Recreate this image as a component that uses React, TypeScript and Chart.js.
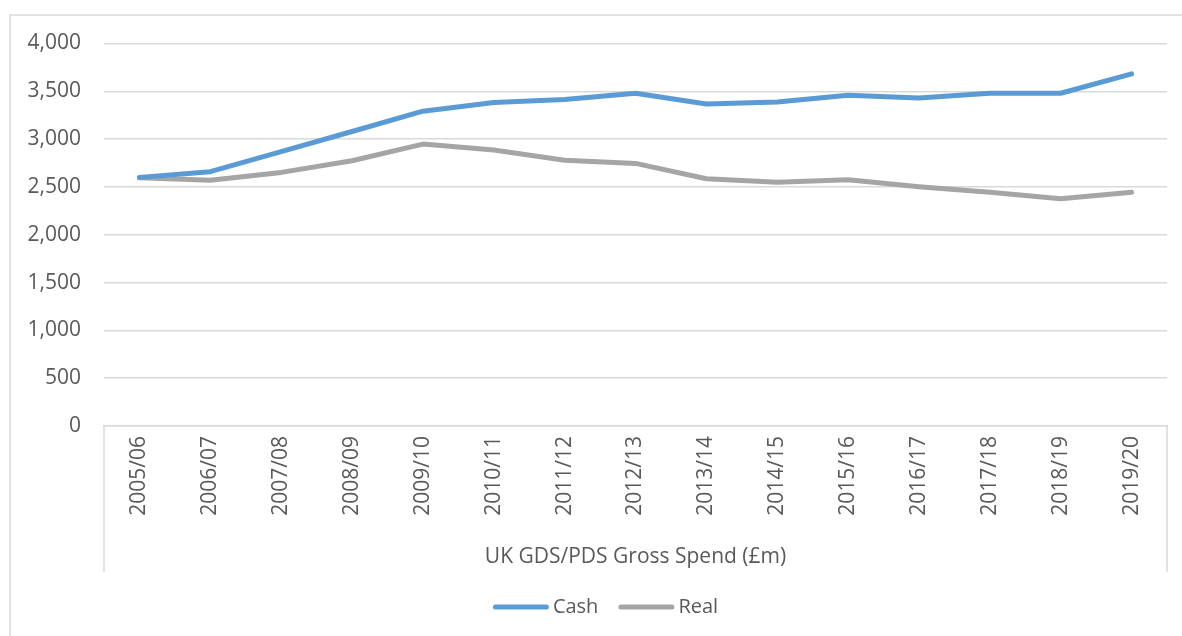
import React, { useEffect, useRef } from "react";
import { Chart, registerables } from "chart.js";

Chart.register(...registerables);

const categories = [
  "2005/06", "2006/07", "2007/08", "2008/09", "2009/10", "2010/11", "2011/12", "2012/13",
  "2013/14", "2014/15", "2015/16", "2016/17", "2017/18", "2018/19", "2019/20",
];
const cashValues = [2600, 2660, 2870, 3080, 3292, 3384, 3415, 3480, 3368, 3388, 3460, 3430, 3480, 3480, 3682];
const realValues = [2595, 2570, 2652, 2774, 2948, 2886, 2780, 2746, 2586, 2550, 2574, 2502, 2444, 2376, 2444];
const yTicks = { min: 0, max: 4000, step: 500 };
const axisTitle = "UK GDS/PDS Gross Spend (£m)";
const seriesNames = ["Cash", "Real"];
const seriesColors = ["#5b9bd5", "#a5a5a5"];

const GRID = "#d9d9d9";
const TEXT = "#595959";
const FONT = "'Open Sans', 'Noto Sans', sans-serif";

const framePlugin = {
  id: "frame",
  beforeDraw(chart: any) {
    const { ctx, width, height } = chart;
    ctx.save();
    ctx.fillStyle = "#ffffff";
    ctx.fillRect(0, 0, width, height);
    ctx.strokeStyle = GRID;
    ctx.lineWidth = 1.5;
    ctx.strokeRect(10, 15, width + 20, height + 20);
    ctx.restore();
  },
  afterDatasetsDraw(chart: any) {
    const { ctx, chartArea } = chart;
    ctx.save();
    ctx.strokeStyle = GRID;
    ctx.lineWidth = 1.5;
    ctx.beginPath();
    ctx.moveTo(chartArea.left, chartArea.bottom);
    ctx.lineTo(chartArea.left, chartArea.bottom + 146);
    ctx.moveTo(chartArea.right, chartArea.bottom);
    ctx.lineTo(chartArea.right, chartArea.bottom + 146);
    ctx.stroke();
    ctx.restore();
  },
  afterDraw(chart: any) {
    const { ctx } = chart;
    const datasets = chart.data.datasets;
    const lineLen = 56;
    const gap = 4;
    const itemGap = 20;
    ctx.save();
    ctx.font = `20px ${FONT}`;
    const widths = datasets.map((d: any) => lineLen + gap + ctx.measureText(d.label).width);
    const total = widths.reduce((a: number, b: number) => a + b, 0) + itemGap * (datasets.length - 1);
    let x = 605.5 - total / 2;
    const y = chart.chartArea.bottom + 181;
    datasets.forEach((d: any, i: number) => {
      ctx.strokeStyle = d.borderColor;
      ctx.lineWidth = 5;
      ctx.lineCap = "round";
      ctx.beginPath();
      ctx.moveTo(x + 2.5, y);
      ctx.lineTo(x + lineLen - 2.5, y);
      ctx.stroke();
      ctx.fillStyle = TEXT;
      ctx.textBaseline = "middle";
      ctx.textAlign = "left";
      ctx.fillText(d.label, x + lineLen + gap, y);
      x += widths[i] + itemGap;
    });
    ctx.restore();
  },
};

export default function App() {
  const ref = useRef<HTMLCanvasElement | null>(null);

  useEffect(() => {
    if (!ref.current) return;
    const chart = new Chart(ref.current, {
      type: "line",
      data: {
        labels: categories,
        datasets: [
          {
            label: seriesNames[0],
            data: cashValues,
            borderColor: seriesColors[0],
            backgroundColor: seriesColors[0],
            borderWidth: 5,
            pointRadius: 0,
            tension: 0,
            borderCapStyle: "round",
            borderJoinStyle: "round",
          },
          {
            label: seriesNames[1],
            data: realValues,
            borderColor: seriesColors[1],
            backgroundColor: seriesColors[1],
            borderWidth: 5,
            pointRadius: 0,
            tension: 0,
            borderCapStyle: "round",
            borderJoinStyle: "round",
          },
        ],
      },
      options: {
        responsive: false,
        animation: false,
        layout: { padding: { left: 10, right: 15, top: 43.5, bottom: 59 } },
        plugins: {
          tooltip: { enabled: false },
          legend: { display: false },
        },
        scales: {
          x: {
            offset: true,
            grid: { display: false, drawTicks: false },
            border: { display: true, color: GRID, width: 1.5 },
            ticks: {
              autoSkip: false,
              maxRotation: 90,
              minRotation: 90,
              padding: 10,
              color: TEXT,
              font: { family: FONT, size: 21 },
            },
            title: {
              display: true,
              text: axisTitle,
              color: TEXT,
              font: { family: FONT, size: 21 },
              padding: { top: 0, bottom: 7.5 },
            },
            afterFit: (scale: any) => {
              scale.height = 151;
            },
          },
          y: {
            min: yTicks.min,
            max: yTicks.max,
            grid: { color: GRID, lineWidth: 1.5, drawTicks: false },
            border: { display: false },
            ticks: {
              stepSize: yTicks.step,
              padding: 23,
              color: TEXT,
              font: { family: FONT, size: 21 },
              callback: (v: any) => Number(v).toLocaleString("en-US"),
            },
            afterFit: (scale: any) => {
              scale.width = 94;
            },
          },
        },
      },
      plugins: [framePlugin],
    });
    return () => chart.destroy();
  }, []);

  return (
    <canvas
      ref={ref}
      width={1182}
      height={636}
      style={{ position: "absolute", left: 0, top: 0, width: 1182, height: 636, display: "block" }}
    />
  );
}
